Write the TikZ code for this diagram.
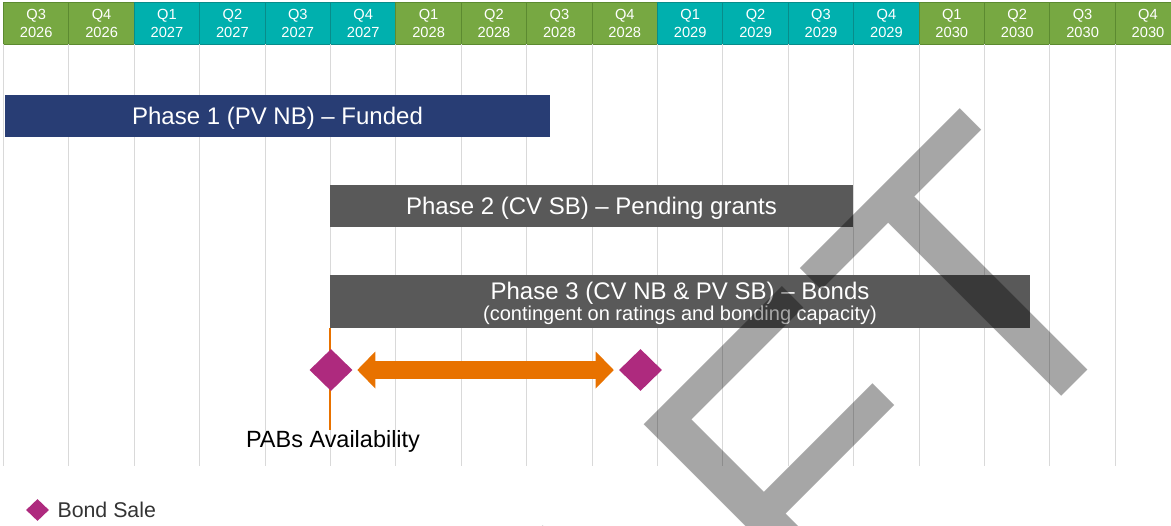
\documentclass[tikz,border=0pt]{standalone}
\usepackage{fontspec}
\setmainfont{Liberation Sans}
\usepackage{xcolor}
\usetikzlibrary{positioning,shapes.geometric,arrows.meta}

\definecolor{hdrgreen}{RGB}{119,168,66}
\definecolor{hdrgreenline}{RGB}{92,138,48}
\definecolor{hdrteal}{RGB}{0,176,174}
\definecolor{hdrtealline}{RGB}{8,140,138}
\definecolor{navybar}{RGB}{40,61,116}
\definecolor{greybar}{RGB}{89,89,89}
\definecolor{bondpink}{RGB}{174,42,126}
\definecolor{pabsorange}{RGB}{232,114,0}
\definecolor{gridgrey}{RGB}{217,217,217}

\begin{document}
\begin{tikzpicture}[x=0.75pt, y=-0.75pt,
  quarter/.style={draw, line width=0.75pt, text=white, inner sep=0pt,
    minimum width=49.05pt, minimum height=31.5pt, align=center,
    font=\fontsize{11}{13.5}\selectfont},
  gridline/.style={draw=gridgrey, line width=0.75pt},
  phasebar/.style={fill=#1, text=white, inner sep=0pt, minimum height=31.5pt,
    text depth=0pt, font=\fontsize{18}{21}\selectfont},
  bondsale/.style={diamond, fill=bondpink, inner sep=0pt,
    minimum width=32.25pt, minimum height=31.5pt},
  bondwindow/.style={draw=pabsorange, line width=13.5pt,
    {Triangle[length=13.5pt, width=27.75pt, line width=0pt]}-{Triangle[length=13.5pt, width=27.75pt, line width=0pt]},
    shorten <=3.4pt, shorten >=3.75pt},
  watermark/.style={text=black, text opacity=0.35, rotate=45, anchor=base,
    inner sep=0pt, font=\fontsize{300}{300}\selectfont}]
\useasboundingbox (0,0) rectangle (1171,525);
\clip (0,0) rectangle (1171,525);

% quarters header
\foreach \k in {0,...,17}{
  \pgfmathtruncatemacro{\qtr}{mod(\k+2,4)+1}
  \pgfmathtruncatemacro{\yr}{2026+div(\k+2,4)}
  \pgfmathtruncatemacro{\odd}{mod(\yr,2)}
  \ifnum\odd=1 \def\hue{hdrteal}\def\rim{hdrtealline}\else\def\hue{hdrgreen}\def\rim{hdrgreenline}\fi
  \node[quarter, fill=\hue, draw=\rim] (q\k) at ({36.2+65.4*\k},23) {Q\qtr\\\yr};
  \draw[gridline] ({3.5+65.4*\k},44) -- ({3.5+65.4*\k},466);
}

% phases
\node[phasebar=navybar, minimum width=408.75pt] (phaseone) at (277.5,116) {Phase 1 (PV NB) -- Funded};
\node[phasebar=greybar, minimum width=392.25pt] (phasetwo) at (591.5,206) {Phase 2 (CV SB) -- Pending grants};
\node[phasebar=greybar, minimum width=525pt, minimum height=39.75pt, align=center,
  font=\fontsize{18}{15.5}\selectfont] (phasethree) at (680,301.5)
  {Phase 3 (CV NB \& PV SB) -- Bonds\\{\fontsize{15}{15}\selectfont (contingent on ratings and bonding capacity)}};

% bond sales and PABs window
\node[font=\fontsize{17.6}{20}\selectfont, inner sep=0pt] (pabs) at (333,441) {PABs Availability};
\draw[draw=pabsorange, line width=1.2pt] (phasethree.south west) -- (phasethree.south west |- pabs.north);
\node[bondsale] (saleone) at (331,370) {};
\node[bondsale] (saletwo) at (640.5,370) {};
\draw[bondwindow] (saleone.east) -- (saletwo.west);

% legend
\node[bondsale, minimum width=17.25pt, minimum height=16.5pt] (legsale) at (37.5,510) {};
\node[right=6pt of legsale, inner sep=0pt, text=black!80, font=\fontsize{16}{19}\selectfont] (legtext) {Bond Sale};

% draft mark
\node[watermark] (draftmark) at (690,768) {DRAFT};
\end{tikzpicture}
\end{document}
